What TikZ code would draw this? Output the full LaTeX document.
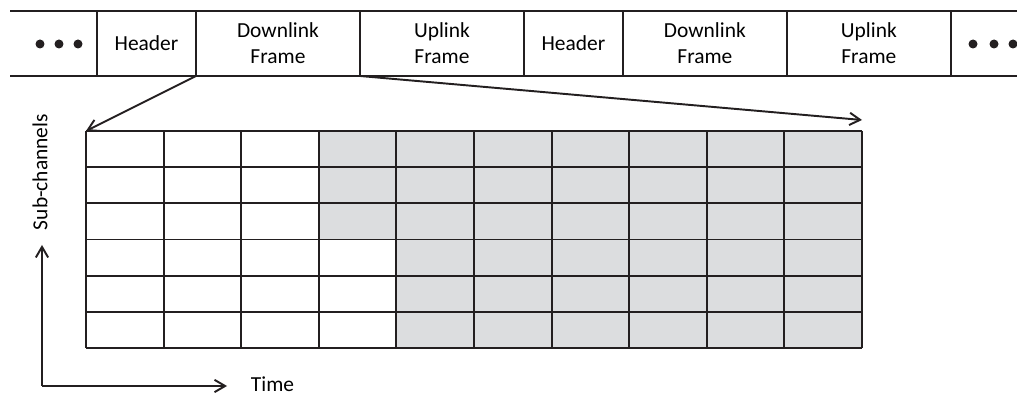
\documentclass[tikz,border=0pt]{standalone}
\usepackage{fontspec}
\setmainfont{Carlito}
\usetikzlibrary{arrows.meta,positioning}
\definecolor{SlotClr}{rgb}{0.863,0.867,0.875}
\definecolor{LineClr}{rgb}{0.137,0.122,0.125}

\begin{document}
\begin{tikzpicture}[x=0.02cm,y=-0.02cm,line width=1.1pt,draw=LineClr,
  font=\fontsize{12.2}{14.7}\selectfont,
  cell/.style={draw=LineClr,minimum height=1.3cm,inner sep=0pt,outer sep=0pt,align=center},
  hdr/.style={cell,minimum width=1.98cm},
  frm/.style={cell,minimum width=3.28cm},
  dot/.style={circle,fill=LineClr,inner sep=0pt,minimum size=0.18cm},
  barb/.style={-{Straight Barb[length=6pt,width=7pt]}}]
\useasboundingbox (0,0) rectangle (1017,394);

% frame sequence
\node[hdr,anchor=north west] (h1) at (97,11) {Header};
\node[frm,right=0pt of h1] (dl1) {Downlink\\Frame};
\node[frm,right=0pt of dl1] (ul1) {Uplink\\Frame};
\node[hdr,right=0pt of ul1] (h2) {Header};
\node[frm,right=0pt of h2] (dl2) {Downlink\\Frame};
\node[frm,right=0pt of dl2] (ul2) {Uplink\\Frame};

\coordinate (barNW) at (10,11);
\coordinate (barSW) at (10,76);
\coordinate (barNE) at (1017,11);
\coordinate (barSE) at (1017,76);
\draw (barNW) -- (h1.north west) (barSW) -- (h1.south west);
\draw (ul2.north east) -- (barNE) (ul2.south east) -- (barSE);

\foreach \x [count=\i] in {40,59,78} \node[dot] (dL\i) at (\x,44) {};
\foreach \x [count=\i] in {973,994,1013} \node[dot] (dR\i) at (\x,44) {};

% sub-channel / time slot grid
\coordinate (gNW) at (86,131);
\coordinate (gSE) at (862,348);
\coordinate (tipR) at (862,120);
\fill[SlotClr] (318.8,131) rectangle (862,239.5);
\fill[SlotClr] (396.4,239.5) rectangle (gSE);
\foreach \i in {0,...,10} \draw (86+77.6*\i,131) -- (86+77.6*\i,348);
\foreach \j in {0,...,6} \draw (86,131+36.17*\j) -- (862,131+36.17*\j);

\draw[barb] (dl1.south west) -- (gNW);
\draw[barb] (dl1.south east) -- (tipR);

% axes
\coordinate (ax) at (42,386);
\coordinate (axUp) at (42,245);
\coordinate (axRt) at (227,386);
\draw[barb] (ax) -- (axUp);
\draw[barb] (ax) -- (axRt);
\node[anchor=west,inner sep=0pt] (time) at (250,384) {Time};
\node[rotate=90,inner sep=0pt] (sub) at (40,172) {Sub-channels};

\end{tikzpicture}
\end{document}
